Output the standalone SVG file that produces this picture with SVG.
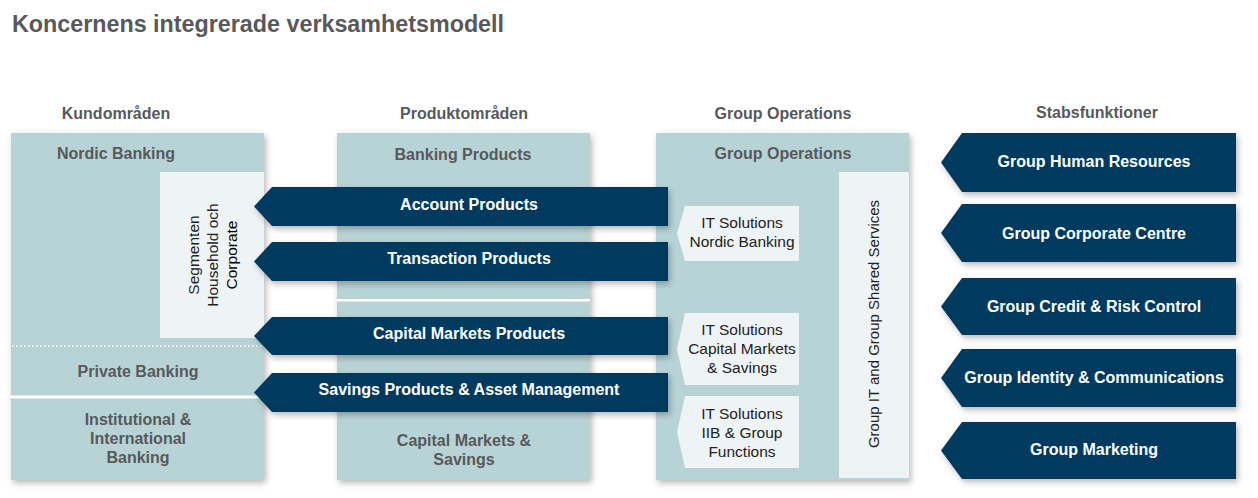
<svg xmlns="http://www.w3.org/2000/svg" width="1258" height="498" viewBox="0 0 1258 498">
<defs>
<filter id="sh" x="-10%" y="-10%" width="125%" height="130%">
<feDropShadow dx="2" dy="3" stdDeviation="3" flood-color="#000" flood-opacity="0.28"/>
</filter>
<style>
.box{fill:#b8d3d6;filter:url(#sh)}
.lt{fill:#eef4f5}
.nv{fill:#043a5e;filter:url(#sh)}
.it{fill:#eef4f5}
.ttl{font-family:"Liberation Sans",Arial,sans-serif;font-weight:bold;font-size:23.3px;fill:#58595b}
.hd{font-family:"Liberation Sans",Arial,sans-serif;font-weight:bold;font-size:16px;fill:#58595b;text-anchor:middle}
.wt{font-family:"Liberation Sans",Arial,sans-serif;font-weight:bold;font-size:16px;fill:#ffffff;text-anchor:middle}
.rg{font-family:"Liberation Sans",Arial,sans-serif;font-size:15.5px;fill:#222;text-anchor:middle}
</style>
</defs>
<rect width="1258" height="498" fill="#ffffff"/>
<text class="ttl" x="12" y="32">Koncernens integrerade verksamhetsmodell</text>
<g id="headers">
<text class="hd" x="116" y="119">Kundområden</text>
<text class="hd" x="464" y="119">Produktområden</text>
<text class="hd" x="783" y="119">Group Operations</text>
<text class="hd" x="1097" y="118">Stabsfunktioner</text>
</g>
<g id="kundomraden">
<rect class="box" x="11" y="133" width="253" height="347"/>
<text class="hd" x="116" y="159">Nordic Banking</text>
<rect class="lt" x="160" y="172" width="104" height="166"/>
<g transform="translate(0,255)">
<text class="rg" transform="translate(199,0) rotate(-90)" x="0" y="0">Segmenten</text>
<text class="rg" transform="translate(218,0) rotate(-90)" x="0" y="0">Household och</text>
<text class="rg" transform="translate(237,0) rotate(-90)" x="0" y="0" style="fill:#000">Corporate</text>
</g>
<line x1="12" y1="346" x2="264" y2="346" stroke="#ffffff" stroke-width="1.5" stroke-dasharray="1.5 2.5"/>
<text class="hd" x="138" y="377">Private Banking</text>
<rect x="11" y="395.5" width="253" height="3" fill="#ffffff"/>
<text class="hd" x="138" y="425">Institutional &amp;</text>
<text class="hd" x="138" y="444">International</text>
<text class="hd" x="138" y="463">Banking</text>
</g>
<g id="produktomraden">
<rect class="box" x="337" y="133" width="253" height="347"/>
<text class="hd" x="463" y="160">Banking Products</text>
<rect x="337" y="299" width="253" height="2.5" fill="#ffffff"/>
<text class="hd" x="464" y="446">Capital Markets &amp;</text>
<text class="hd" x="464" y="465">Savings</text>
</g>
<g id="group-operations">
<rect class="box" x="656" y="133" width="253" height="347"/>
<text class="hd" x="783" y="159">Group Operations</text>
<rect class="lt" x="839" y="172" width="70" height="306"/>
<text class="rg" style="font-size:15px" transform="translate(879,324) rotate(-90)" x="0" y="0">Group IT and Group Shared Services</text>
</g>
<g id="it-nordic">
<polygon class="it" points="677,233.5 685,206 799,206 799,261 685,261"/>
<text class="rg" x="742" y="228">IT Solutions</text>
<text class="rg" x="742" y="247">Nordic Banking</text>
</g>
<g id="it-cms">
<polygon class="it" points="677,349 685,313 799,313 799,385 685,385"/>
<text class="rg" x="742" y="335">IT Solutions</text>
<text class="rg" x="742" y="354">Capital Markets</text>
<text class="rg" x="742" y="373">&amp; Savings</text>
</g>
<g id="it-iib">
<polygon class="it" points="677,432 685,396 799,396 799,468 685,468"/>
<text class="rg" x="742" y="419">IT Solutions</text>
<text class="rg" x="742" y="438">IIB &amp; Group</text>
<text class="rg" x="742" y="457">Functions</text>
</g>
<g id="account-products">
<polygon class="nv" points="254,206.5 272,187 668,187 668,226 272,226"/>
<text class="wt" x="469" y="210">Account Products</text>
</g>
<g id="transaction-products">
<polygon class="nv" points="254,261.5 272,242 668,242 668,281 272,281"/>
<text class="wt" x="469" y="264">Transaction Products</text>
</g>
<g id="capital-markets-products">
<polygon class="nv" points="254,336 272,317 668,317 668,355 272,355"/>
<text class="wt" x="469" y="339">Capital Markets Products</text>
</g>
<g id="savings-products">
<polygon class="nv" points="254,392.5 272,373 668,373 668,412 272,412"/>
<text class="wt" x="469" y="395">Savings Products &amp; Asset Management</text>
</g>
<g id="stab-hr">
<polygon class="nv" points="941,162.5 962,133 1236,133 1236,192 962,192"/>
<text class="wt" x="1094" y="167">Group Human Resources</text>
</g>
<g id="stab-gcc">
<polygon class="nv" points="941,233 962,204 1236,204 1236,262 962,262"/>
<text class="wt" x="1094" y="239">Group Corporate Centre</text>
</g>
<g id="stab-credit">
<polygon class="nv" points="941,306.5 962,278 1236,278 1236,335 962,335"/>
<text class="wt" x="1094" y="312">Group Credit &amp; Risk Control</text>
</g>
<g id="stab-identity">
<polygon class="nv" points="941,378 962,349 1236,349 1236,407 962,407"/>
<text class="wt" x="1094" y="383">Group Identity &amp; Communications</text>
</g>
<g id="stab-marketing">
<polygon class="nv" points="941,450.5 962,422 1236,422 1236,479 962,479"/>
<text class="wt" x="1094" y="455">Group Marketing</text>
</g>
<g id="connectors"></g>
</svg>
